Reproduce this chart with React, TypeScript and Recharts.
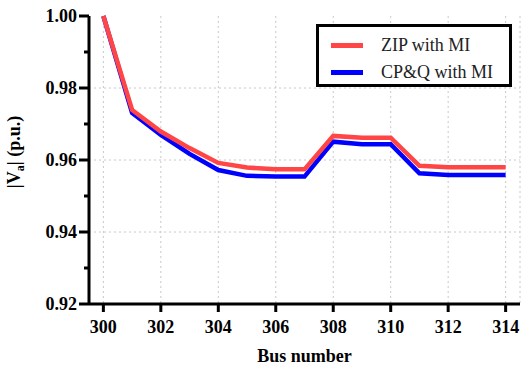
import React from "react";
import { LineChart, Line, XAxis, YAxis, CartesianGrid, Legend, ReferenceLine } from "recharts";

const BUSES = [300, 301, 302, 303, 304, 305, 306, 307, 308, 309, 310, 311, 312, 313, 314];
const ZIP_MI = [1.0, 0.9739, 0.9679, 0.9633, 0.9592, 0.9579, 0.9574, 0.9574, 0.9667, 0.9662, 0.9662, 0.9584, 0.958, 0.958, 0.958];
const CPQ_MI = [1.0, 0.9731, 0.967, 0.9617, 0.9572, 0.9556, 0.9554, 0.9554, 0.9651, 0.9644, 0.9644, 0.9563, 0.9558, 0.9558, 0.9558];
const X_TICKS = [300, 302, 304, 306, 308, 310, 312, 314];
const Y_MAJOR = [0.92, 0.94, 0.96, 0.98, 1.0];
const Y_MINOR = [0.93, 0.95, 0.97, 0.99];
const Y_GRID = [0.94, 0.96, 0.98];

const data = BUSES.map((b, i) => ({ bus: b, zip: ZIP_MI[i], cpq: CPQ_MI[i] }));
const FONT = "Liberation Serif, Times New Roman, Times, serif";

const YTick = (props: any) => {
  const { x, y, payload } = props;
  const major = Y_MAJOR.some((v) => Math.abs(v - payload.value) < 1e-6);
  const len = major ? 10 : 5;
  return (
    <g>
      <line x1={x} x2={x - len} y1={y} y2={y} stroke="#000" strokeWidth={3} />
      {major && (
        <text x={x - 12} y={y} dy={6} textAnchor="end" style={{ fontFamily: FONT, fontWeight: 700, fontSize: 18 }} fill="#000">
          {payload.value.toFixed(2)}
        </text>
      )}
    </g>
  );
};

const YTitle = (props: any) => {
  const { viewBox } = props;
  const cx = 20;
  const cy = viewBox.y + viewBox.height / 2 - 8;
  return (
    <text transform={`translate(${cx},${cy}) rotate(-90)`} textAnchor="middle" style={{ fontFamily: FONT, fontWeight: 700, fontSize: 18 }} fill="#000">
      |V<tspan style={{ fontSize: 12 }} dy={4}>a</tspan>
      <tspan dy={-4}>| (p.u.)</tspan>
    </text>
  );
};

const LegendBox = () => (
  <div
    style={{
      border: "3px solid #000",
      background: "#fff",
      width: 190,
      height: 57,
      boxSizing: "content-box",
      fontFamily: FONT,
      fontSize: 18,
      color: "#222",
    }}
  >
    {[
      { name: "ZIP with MI", color: "#FF4545" },
      { name: "CP&Q with MI", color: "#0000FF" },
    ].map((it, i) => (
      <div key={i} style={{ display: "flex", alignItems: "center", height: 27, marginTop: i === 0 ? 5 : 0 }}>
        <div style={{ width: 32, height: 5, background: it.color, marginLeft: 12, marginRight: 18 }} />
        <span>{it.name}</span>
      </div>
    ))}
  </div>
);

export default function App() {
  return (
    <div style={{ position: "absolute", left: 0, top: 0, background: "#fff", fontFamily: FONT }}>
      <LineChart width={522} height={366} data={data} margin={{ top: 16, right: 2, left: 0, bottom: 0 }}>
        <CartesianGrid stroke="#c8c8c8" strokeDasharray="2 3" horizontal={false} />
        {Y_GRID.map((v) => (
          <ReferenceLine key={v} y={v} stroke="#c8c8c8" strokeDasharray="2 3" />
        ))}
        <XAxis
          dataKey="bus"
          type="number"
          domain={[299.5, 314.5]}
          ticks={X_TICKS}
          height={62}
          axisLine={{ stroke: "#000", strokeWidth: 3 }}
          tickLine={{ stroke: "#000", strokeWidth: 3 }}
          tickSize={8}
          tickMargin={8}
          tick={{ fill: "#000", fontFamily: FONT, fontWeight: 700, fontSize: 18 }}
          label={{ value: "Bus number", position: "insideBottom", offset: 4, fill: "#000", fontFamily: FONT, fontWeight: 700, fontSize: 18 }}
        />
        <XAxis
          xAxisId="top"
          orientation="top"
          type="number"
          domain={[299.5, 314.5]}
          height={0}
          tick={false}
          tickLine={false}
          axisLine={{ stroke: "#000", strokeWidth: 3 }}
        />
        <YAxis
          type="number"
          domain={[0.92, 1.0]}
          ticks={[...Y_MAJOR, ...Y_MINOR].sort((a, b) => a - b)}
          width={89}
          tickSize={0}
          tickMargin={0}
          tickLine={false}
          tick={<YTick />}
          axisLine={{ stroke: "#000", strokeWidth: 3 }}
          label={<YTitle />}
        />
        <YAxis
          yAxisId="right"
          orientation="right"
          type="number"
          domain={[0.92, 1.0]}
          width={0}
          tick={false}
          tickLine={false}
          axisLine={{ stroke: "#000", strokeWidth: 3 }}
        />
        <Legend
          layout="horizontal"
          verticalAlign="middle"
          align="center"
          content={<LegendBox />}
          wrapperStyle={{ position: "absolute", left: 316, top: 24, width: 196, height: 63 }}
        />
        <Line dataKey="cpq" name="CP&Q with MI" stroke="#0000FF" strokeWidth={4.5} dot={false} isAnimationActive={false} />
        <Line dataKey="zip" name="ZIP with MI" stroke="#FF4545" strokeWidth={4.5} dot={false} isAnimationActive={false} />
      </LineChart>
    </div>
  );
}
